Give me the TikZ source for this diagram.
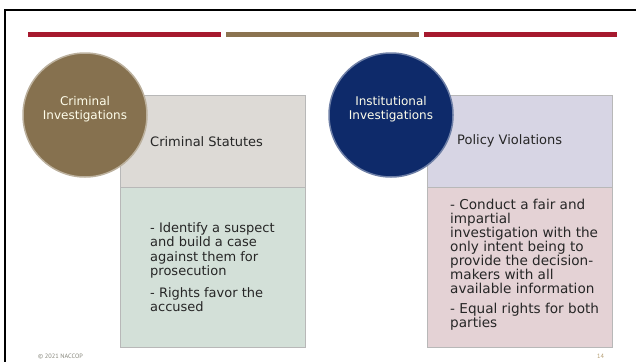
\documentclass[tikz,border=0pt]{standalone}
\usepackage{fontspec}
\setmainfont{DejaVu Sans}
\newfontfamily\footfont{PT Sans}
\usepackage{tikz}

\definecolor{naccopred}{HTML}{A6192E}
\definecolor{naccoptan}{HTML}{8B7350}
\definecolor{headgray}{HTML}{DDDAD6}
\definecolor{bodygreen}{HTML}{D3E0D8}
\definecolor{headlav}{HTML}{D7D5E4}
\definecolor{bodypink}{HTML}{E4D2D5}
\definecolor{circletan}{HTML}{86714F}
\definecolor{circlenavy}{HTML}{0E2A6A}
\definecolor{footgray}{HTML}{85857A}
\definecolor{footgold}{HTML}{B39C70}

\begin{document}
\begin{tikzpicture}[x=1pt,y=-1pt]
  \tikzset{BarStyle/.style = {
    shape         = rectangle,
    inner sep     = 0pt,
    minimum width = 193pt,
    minimum height= 5pt,
    anchor        = north west
    }
  }
  \tikzset{BoxStyle/.style = {
    shape         = rectangle,
    draw          = black!28,
    line width    = 0.7pt,
    inner sep     = 0pt,
    minimum width = 185pt,
    anchor        = north west
    }
  }
  \tikzset{CircleStyle/.style = {
    shape         = circle,
    line width    = 1.5pt,
    inner sep     = 0pt,
    minimum size  = 124pt
    }
  }
  \tikzset{CircleTextStyle/.style = {
    align         = center,
    text          = white!92!yellow,
    inner sep     = 0pt,
    font          = \fontsize{12}{14}\selectfont
    }
  }
  \tikzset{TextStyle/.style = {
    align         = left,
    text          = black!85,
    inner sep     = 0pt,
    anchor        = west,
    font          = \fontsize{13}{14.5}\selectfont
    }
  }
  \tikzset{FootStyle/.style = {
    anchor        = west,
    inner sep     = 0pt,
    font          = \footfont\fontsize{6.3}{7}\selectfont
    }
  }

  \useasboundingbox (0,0) rectangle (636,362);

  % slide frame
  \draw[line width=2.5pt] (636,10) -- (5,10) -- (5,362);

  % top bars
  \node[BarStyle, fill=naccopred](bar1) at (28,32) {};
  \node[BarStyle, fill=naccoptan](bar2) at (226,32) {};
  \node[BarStyle, fill=naccopred](bar3) at (424,32) {};

  % boxes
  \node[BoxStyle, fill=headgray, minimum height=92pt](headL) at (120,95) {};
  \node[BoxStyle, fill=bodygreen, minimum height=160pt](bodyL) at (120,187) {};
  \node[BoxStyle, fill=headlav, minimum height=92pt](headR) at (427,95) {};
  \node[BoxStyle, fill=bodypink, minimum height=160pt](bodyR) at (427,187) {};

  \node[TextStyle](statutes) at ([xshift=30pt]headL.west) {Criminal Statutes};
  \node[TextStyle](policy) at ([xshift=30pt]headR.west) {Policy Violations};
  \node[TextStyle](crimtext) at ([xshift=30pt]bodyL.west)
    {- Identify a suspect\\ and build a case\\ against them for\\ prosecution\\[7pt]
     - Rights favor the\\ accused};
  \node[TextStyle, font=\fontsize{13.6}{14}\selectfont](insttext) at ([xshift=23pt,yshift=3pt]bodyR.west)
    {- Conduct a fair and\\ impartial\\ investigation with the\\ only intent being to\\
     provide the decision-\\ makers with all\\ available information\\[6pt]
     - Equal rights for both\\ parties};

  % circles
  \node[CircleStyle, fill=circletan, draw=circletan!55!white](circL) at (85,115) {};
  \node[CircleStyle, fill=circlenavy, draw=circlenavy!60!white](circR) at (391,115) {};
  \node[CircleTextStyle](crimlabel) at ([yshift=6pt]circL.center) {Criminal\\Investigations};
  \node[CircleTextStyle](instlabel) at ([yshift=6pt]circR.center) {Institutional\\Investigations};

  % footer
  \node[FootStyle, text=footgray](copy) at (38,356) {© 2021 NACCOP};
  \node[FootStyle, text=footgold](page) at (597,356) {14};
\end{tikzpicture}
\end{document}
